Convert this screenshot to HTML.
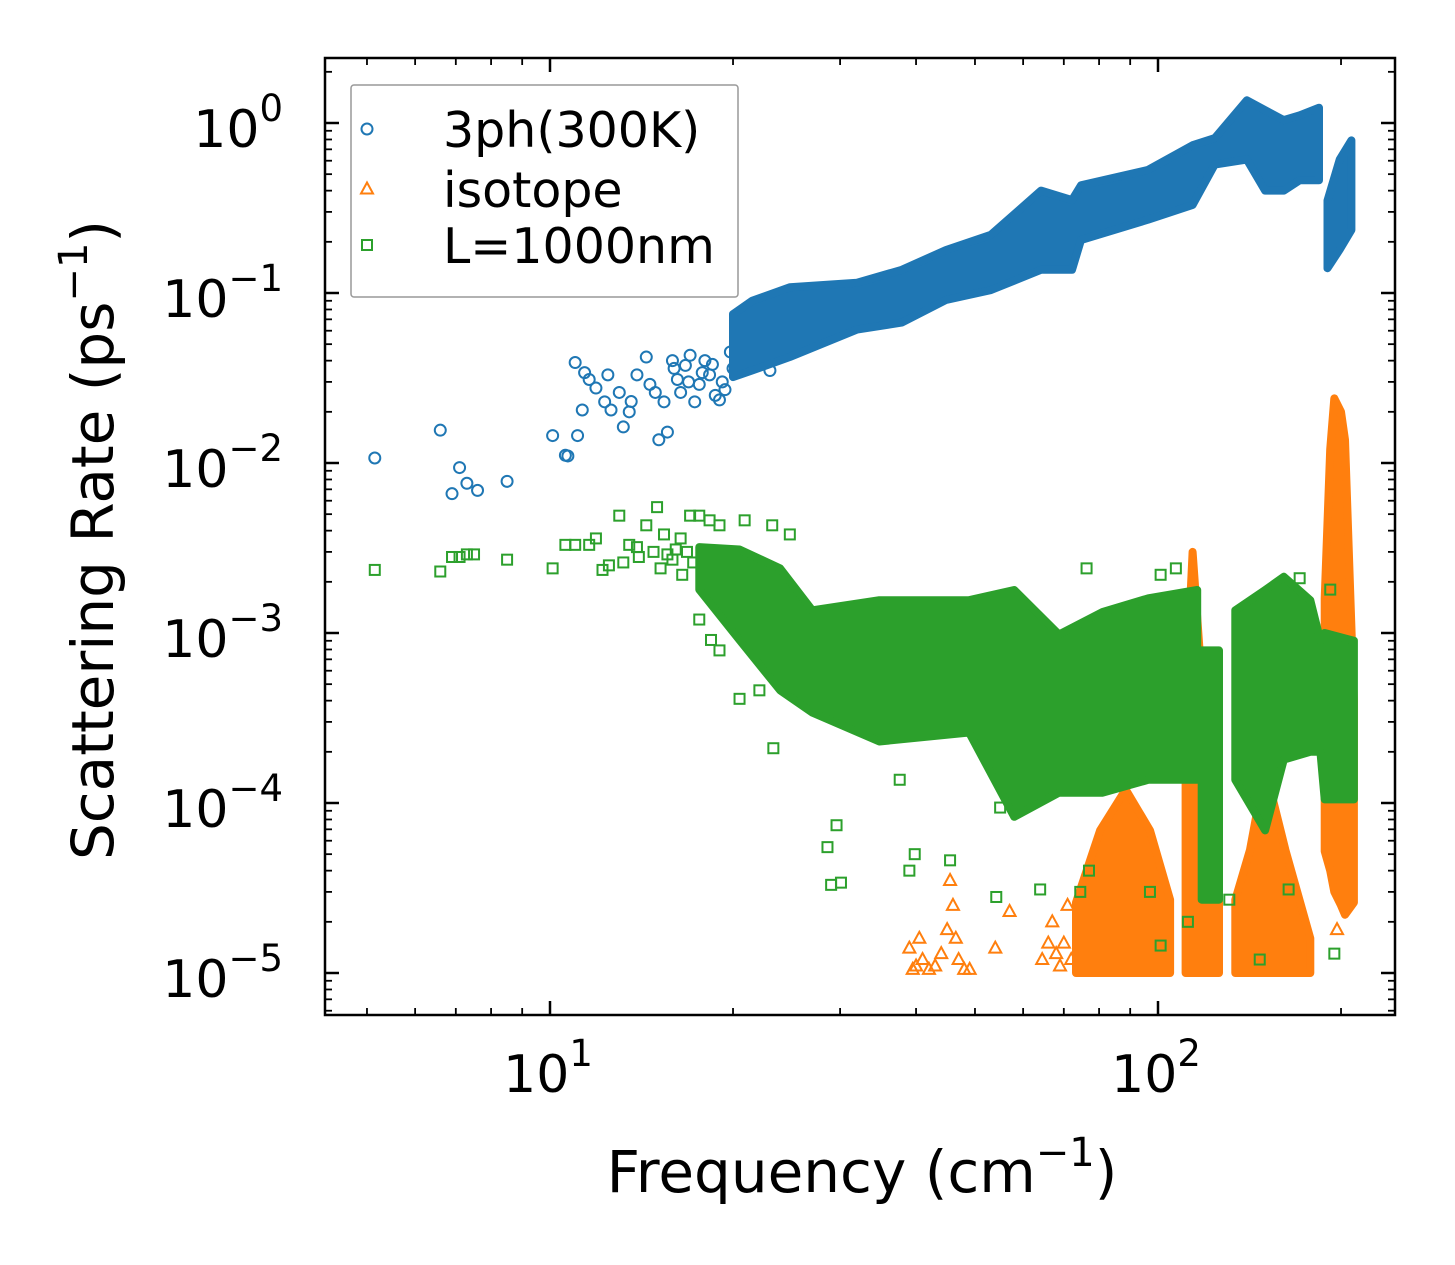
<!DOCTYPE html>
<html><head><meta charset="utf-8"><style>
html,body{margin:0;padding:0;background:#fff;}
svg{display:block;font-family:"DejaVu Sans","Liberation Sans",sans-serif;}
</style></head><body>
<svg id="chart" width="1455" height="1265" viewBox="0 0 1455 1265" xmlns="http://www.w3.org/2000/svg">
<rect width="1455" height="1265" fill="#fff"/>
<g id="marks"></g>
<g id="axes"></g>
</svg>
<script>
// ---- data (frequency in cm^-1, rate in ps^-1) ----
const blueX = [5.15,6.6,7.1,6.9,7.3,7.6,8.5,10.1,10.7,11.1,10.6,11.0,11.4,11.6,11.3,11.9,12.3,12.6,12.45,13.0,13.2,13.5,13.6,13.9,14.4,14.6,14.9,15.1,15.4,15.6,15.9,16.2,16.4,16.7,17.0,17.3,17.6,17.98,18.3,19.0,19.4,18.7,16.0,16.9,17.8,18.5,19.2,19.8,20.3,20.8,21.3,21.8,22.4,20.0,21.0,22.0,23.0];
const blueY = [0.0107,0.0156,0.0094,0.0066,0.0076,0.0069,0.0078,0.0145,0.011,0.0145,0.0111,0.039,0.034,0.031,0.0205,0.0276,0.0229,0.0205,0.033,0.026,0.0163,0.020,0.023,0.033,0.042,0.029,0.026,0.0137,0.0229,0.0152,0.040,0.031,0.026,0.0375,0.043,0.0229,0.029,0.040,0.033,0.0235,0.027,0.025,0.036,0.030,0.034,0.038,0.030,0.045,0.050,0.060,0.065,0.055,0.070,0.036,0.042,0.048,0.035];
const blueBandX = [20.0,21.5,24.8,32,37.9,44.8,53.1,64.2,72.2,74.7,96.3,114,124,140,150,161,171,184];
const blueBandHi = [0.075,0.09,0.108,0.115,0.137,0.179,0.22,0.40,0.352,0.43,0.53,0.74,0.815,1.36,1.19,1.04,1.11,1.23];
const blueBandLo = [0.032,0.035,0.042,0.061,0.067,0.091,0.104,0.137,0.137,0.205,0.27,0.33,0.57,0.61,0.40,0.40,0.46,0.46];
const blueBand2X = [190,199,208];
const blueBand2Hi = [0.35,0.61,0.79];
const blueBand2Lo = [0.14,0.18,0.235];

const orangeX = [39,40,41,43,44,45,45.5,46,46.5,47,48,49,42,39.5,54,57,40.5,64.5,66,67,68,70,71,69,72,197];
const orangeY = [1.4e-5,1.1e-5,1.2e-5,1.1e-5,1.3e-5,1.8e-5,3.5e-5,2.5e-5,1.6e-5,1.2e-5,1.05e-5,1.05e-5,1.05e-5,1.05e-5,1.4e-5,2.3e-5,1.6e-5,1.2e-5,1.5e-5,2e-5,1.3e-5,1.5e-5,2.5e-5,1.1e-5,1.2e-5,1.8e-5];
const orangeAX = [73.3,80.3,88.5,97,104.7];
const orangeAHi = [2.6e-5,6.9e-5,1.2e-4,6.9e-5,2.7e-5];
const orangeALo = [1e-5,1e-5,1e-5,1e-5,1e-5];
const orangeBX = [111,114,117,126];
const orangeBHi = [4e-4,3.0e-3,8e-4,5e-4];
const orangeBLo = [1e-5,1e-5,1e-5,1e-5];
const orangeCX = [134,141.7,150,162,178];
const orangeCHi = [2.7e-5,5.3e-5,1.6e-4,5.3e-5,1.6e-5];
const orangeCLo = [1e-5,1e-5,1e-5,1e-5,1e-5];
const orangeDX = [188,192,195,200,203,210];
const orangeDHi = [0.0016,0.012,0.024,0.02,0.0137,0.0004];
const orangeDLo = [5.2e-5,4e-5,3e-5,2.5e-5,2.2e-5,2.6e-5];

const greenX = [5.15,6.6,6.9,7.1,7.3,7.5,8.5,10.1,10.6,11.0,11.6,11.9,12.2,13.0,13.5,13.9,14.4,15.0,15.4,15.9,16.4,17.0,17.6,18.3,19.0,20.9,23.2,24.8,17.6,18.4,19.0,20.5,23.3,22.1,28.6,29.0,30.1,29.6,39.0,39.8,45.5,54.2,64,101,55,37.6,33.6,74.5,77,97,112,147,195,131,164,101,107,192,171,76.3,12.5,13.2,14.0,14.8,15.6,16.1,16.8,17.2,18.0,18.8,19.5,15.2,16.5];
const greenY = [0.00235,0.0023,0.0028,0.0028,0.0029,0.0029,0.0027,0.0024,0.0033,0.0033,0.0033,0.0036,0.00235,0.0049,0.0033,0.0032,0.0043,0.0055,0.0038,0.0027,0.0036,0.0049,0.0049,0.0046,0.0043,0.0046,0.0043,0.0038,0.0012,0.00091,0.00079,0.00041,0.00021,0.00046,5.5e-5,3.3e-5,3.4e-5,7.4e-5,4.0e-5,5e-5,4.6e-5,2.8e-5,3.1e-5,1.45e-5,9.4e-5,1.37e-4,3.1e-4,3e-5,4e-5,3e-5,2e-5,1.2e-5,1.3e-5,2.7e-5,3.1e-5,0.0022,0.0024,0.0018,0.0021,0.0024,0.0025,0.0026,0.0028,0.0030,0.0029,0.0031,0.0030,0.0026,0.0027,0.0021,0.0019,0.0024,0.0022];
const greenBandX = [17.6,20.5,23.9,27.0,34.8,48.9,58,68.7,81.1,96.4,116];
const greenBandHi = [0.0032,0.0031,0.0024,0.00136,0.00156,0.00156,0.00179,0.00098,0.00133,0.0016,0.00179];
const greenBandLo = [0.0018,0.00091,0.00046,0.00034,0.00023,0.00026,0.000083,0.000115,0.000115,0.000137,0.000137];
const greenBand2X = [118,126];
const greenBand2Hi = [0.00079,0.00079];
const greenBand2Lo = [2.7e-5,2.7e-5];
const greenBand3X = [134,150,161,178,185,188,210];
const greenBand3Hi = [0.00136,0.00179,0.00214,0.00156,0.0009,0.001,0.0009];
const greenBand3Lo = [0.000137,0.000069,0.00018,0.0002,0.0002,0.000105,0.000105];

const yTickExp = [0,-1,-2,-3,-4,-5];
const xTickExp = [1,2];

// ---- axis functions ----
const L=325,R=1395,T=58,B=1015;
function X(v){return 550+(Math.log10(v)-1)*608;}
function Y(v){return 123-Math.log10(v)*170;}
const NS="http://www.w3.org/2000/svg";
const marks=document.getElementById('marks');
const axes=document.getElementById('axes');
function mk(tag,attrs,parent){const e=document.createElementNS(NS,tag);for(const k in attrs)e.setAttribute(k,attrs[k]);parent.appendChild(e);return e;}

function band(xs,hi,lo,color,name){
  let pts=[];
  for(let i=0;i<xs.length;i++)pts.push(X(xs[i]).toFixed(1)+','+Y(hi[i]).toFixed(1));
  for(let i=xs.length-1;i>=0;i--)pts.push(X(xs[i]).toFixed(1)+','+Y(lo[i]).toFixed(1));
  const p=mk('polygon',{points:pts.join(' '),fill:color,stroke:color,'stroke-width':8,'stroke-linejoin':'round'},marks);
  
  
}
function circ(x,y,g){const c=mk('circle',{cx:x,cy:y,r:5.5,fill:'none',stroke:'#1f77b4','stroke-width':2},g);
  
  }
function tri(x,y,g){const t=mk('polygon',{points:`${x},${y-6.5} ${x-6},${y+4.5} ${x+6},${y+4.5}`,fill:'none',stroke:'#ff7f0e','stroke-width':2},g);
  
  }
function sq(x,y,g){const s=mk('rect',{x:x-5,y:y-5,width:10,height:10,fill:'none',stroke:'#2ca02c','stroke-width':2},g);
  
  }

const gB=mk('g',{},marks);


band(blueBandX,blueBandHi,blueBandLo,'#1f77b4','band-3ph');
band(blueBand2X,blueBand2Hi,blueBand2Lo,'#1f77b4','band-3ph-high');
for(let i=0;i<blueX.length;i++)circ(X(blueX[i]),Y(blueY[i]),gB);
const gO=mk('g',{},marks);


band(orangeAX,orangeAHi,orangeALo,'#ff7f0e','band-isotope-a');
band(orangeBX,orangeBHi,orangeBLo,'#ff7f0e','band-isotope-b');
band(orangeCX,orangeCHi,orangeCLo,'#ff7f0e','band-isotope-c');
band(orangeDX,orangeDHi,orangeDLo,'#ff7f0e','band-isotope-d');
for(let i=0;i<orangeX.length;i++)tri(X(orangeX[i]),Y(orangeY[i]),gO);
const gG=mk('g',{},marks);


band(greenBandX,greenBandHi,greenBandLo,'#2ca02c','band-boundary');
band(greenBand2X,greenBand2Hi,greenBand2Lo,'#2ca02c','band-boundary-dip');
band(greenBand3X,greenBand3Hi,greenBand3Lo,'#2ca02c','band-boundary-high');
for(let i=0;i<greenX.length;i++)sq(X(greenX[i]),Y(greenY[i]),gG);

// ---- axes ----
const frame=mk('rect',{x:L,y:T,width:R-L,height:B-T,fill:'none',stroke:'#000','stroke-width':2.5},axes);


function line(x1,y1,x2,y2,w){mk('line',{x1,y1,x2,y2,stroke:'#000','stroke-width':w},axes);}
for(let e=-6;e<=1;e++){
  for(let m=1;m<10;m++){
    const v=m*Math.pow(10,e); const y=Y(v);
    if(y<T||y>B)continue;
    const len=m===1?14:7, w=m===1?2.5:1.8;
    line(L,y,L+len,y,w); line(R,y,R-len,y,w);
  }
}
for(let e=0;e<=3;e++){
  for(let m=1;m<10;m++){
    const v=m*Math.pow(10,e); const x=X(v);
    if(x<L||x>R)continue;
    const len=m===1?14:7, w=m===1?2.5:1.8;
    line(x,B,x,B-len,w); line(x,T,x,T+len,w);
  }
}
yTickExp.forEach(e=>{
  const t=mk('text',{x:283,y:Y(Math.pow(10,e))+24,'text-anchor':'end','font-size':52,fill:'#000'},axes);
  
  
  t.innerHTML='10<tspan dy="-26" font-size="37">'+(e<0?'\u2212'+(-e):e)+'</tspan>';
});
xTickExp.forEach(e=>{
  const t=mk('text',{x:X(Math.pow(10,e))-2,y:1092,'text-anchor':'middle','font-size':52,fill:'#000'},axes);
  
  
  t.innerHTML='10<tspan dy="-26" font-size="37">'+e+'</tspan>';
});
const xt=mk('text',{x:862,y:1192,'text-anchor':'middle','font-size':58,fill:'#000'},axes);


xt.innerHTML='Frequency (cm<tspan dy="-26" font-size="40">\u22121</tspan><tspan dy="26">)</tspan>';
const yt=mk('text',{x:0,y:0,'text-anchor':'middle','font-size':58,fill:'#000',transform:'translate(113,540) rotate(-90)'},axes);


yt.innerHTML='Scattering Rate (ps<tspan dy="-26" font-size="40">\u22121</tspan><tspan dy="26">)</tspan>';

// ---- legend ----
const lg=mk('g',{},axes);


mk('rect',{x:351,y:85,width:387,height:212,rx:3,fill:'#fff','fill-opacity':0.85,stroke:'#999','stroke-width':1.5},lg);
const names=['3ph(300K)','isotope','L=1000nm'];
const rows=[129,189,245];
circ(367,rows[0],lg);tri(367,rows[1],lg);sq(367,rows[2],lg);
names.forEach((n,i)=>{
  const t=mk('text',{x:443,y:rows[i]+18,'font-size':49,fill:'#000'},lg);
  
  
  t.textContent=n;
});
</script>
</body></html>
